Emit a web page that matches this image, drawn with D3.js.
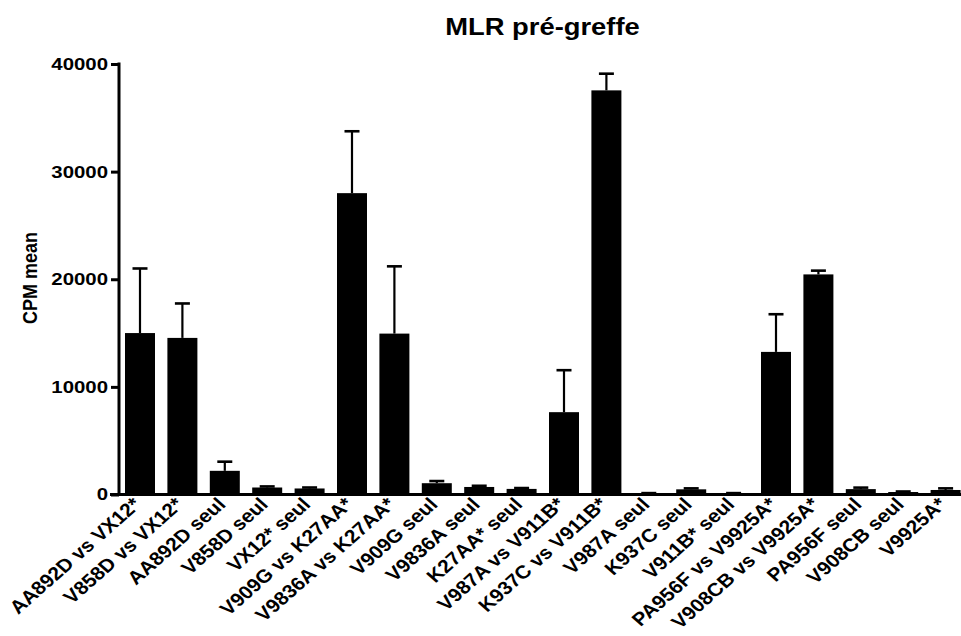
<!DOCTYPE html>
<html>
<head>
<meta charset="utf-8">
<script src="https://cdn.jsdelivr.net/npm/d3@7"></script>
<style>
  html, body { margin: 0; padding: 0; background: #fff; }
  svg { display: block; }
  text { font-family: "Liberation Sans", Arial, Helvetica, sans-serif; font-weight: bold; fill: #000; }
</style>
</head>
<body>
<svg id="chart" width="961" height="636"></svg>
<script>
const categories = [
  "AA892D vs VX12*", "V858D vs VX12*", "AA892D seul", "V858D seul", "VX12* seul",
  "V909G vs K27AA*", "V9836A vs K27AA*", "V909G seul", "V9836A seul", "K27AA* seul",
  "V987A vs V911B*", "K937C vs V911B*", "V987A seul", "K937C seul", "V911B* seul",
  "PA956F vs V9925A*", "V908CB vs V9925A*", "PA956F seul", "V908CB seul", "V9925A*"
];
const means = [15000, 14550, 2200, 650, 560, 28000, 14950, 1050, 700, 520,
               7650, 37550, 100, 480, 100, 13250, 20450, 500, 230, 420];
const errors = [6000, 3200, 850, 100, 90, 5750, 6250, 200, 110, 80,
                3900, 1550, 30, 90, 30, 3500, 350, 140, 50, 150];
const yTicks = [0, 10000, 20000, 30000, 40000];
const title = "MLR pré-greffe";
const yLabel = "CPM mean";

const svg = d3.select("#chart");

const x = d3.scaleBand().domain(categories).range([118, 967.6]).paddingInner(0.2925).paddingOuter(0.165);
const y = d3.scaleLinear().domain([0, 40000]).range([494.5, 64]);

// Bars
svg.append("g").selectAll("rect").data(categories).join("rect")
  .attr("x", d => x(d))
  .attr("y", (d, i) => y(means[i]))
  .attr("width", x.bandwidth())
  .attr("height", (d, i) => y(0) - y(means[i]))
  .attr("fill", "#000");

// Error bars
const eb = svg.append("g").attr("stroke", "#000");
eb.selectAll("line.v").data(categories).join("line").attr("class", "v")
  .attr("x1", d => x(d) + x.bandwidth() / 2)
  .attr("x2", d => x(d) + x.bandwidth() / 2)
  .attr("y1", (d, i) => y(means[i]))
  .attr("y2", (d, i) => y(means[i] + errors[i]))
  .attr("stroke-width", 2.2);
eb.selectAll("line.c").data(categories).join("line").attr("class", "c")
  .attr("x1", d => x(d) + x.bandwidth() / 2 - 7.5)
  .attr("x2", d => x(d) + x.bandwidth() / 2 + 7.5)
  .attr("y1", (d, i) => y(means[i] + errors[i]))
  .attr("y2", (d, i) => y(means[i] + errors[i]))
  .attr("stroke-width", 2.6);

// Y axis
const yAxis = svg.append("g").attr("transform", "translate(119,0)")
  .call(d3.axisLeft(y).tickValues(yTicks).tickFormat(d3.format("d")).tickSize(8).tickSizeOuter(0).tickPadding(4));
yAxis.select(".domain").attr("stroke-width", 3).attr("d", `M0,${y(40000) - 1.5}V${y(0) + 1.5}`);
yAxis.selectAll(".tick line").attr("stroke-width", 3);
yAxis.selectAll(".tick text")
  .attr("font-size", 17).attr("font-family", null)
  .attr("transform", "scale(1.2,1)")
  .attr("x", -11 / 1.2);

// X axis
const xAxis = svg.append("g").attr("transform", `translate(0,${y(0)})`)
  .call(d3.axisBottom(x).tickSize(0).tickSizeOuter(0).tickPadding(0));
xAxis.select(".domain").attr("stroke-width", 3).attr("d", "M110,0H961");
xAxis.selectAll(".tick text")
  .attr("font-size", 18.6).attr("font-family", null)
  .attr("text-anchor", "end")
  .attr("x", 0).attr("y", 0).attr("dy", null)
  .attr("transform", "translate(2,11) scale(1.13,1) rotate(-45)");

// Title
svg.append("text").attr("x", 542.5).attr("y", 35).attr("text-anchor", "middle")
  .attr("font-size", 24)
  .attr("transform", "translate(542.5,0) scale(1.14,1) translate(-542.5,0)")
  .text(title);

// Y label
svg.append("text").attr("transform", "translate(37,278) scale(1.15,1) rotate(-90)")
  .attr("text-anchor", "middle").attr("font-size", 18)
  .text(yLabel);
</script>
</body>
</html>
